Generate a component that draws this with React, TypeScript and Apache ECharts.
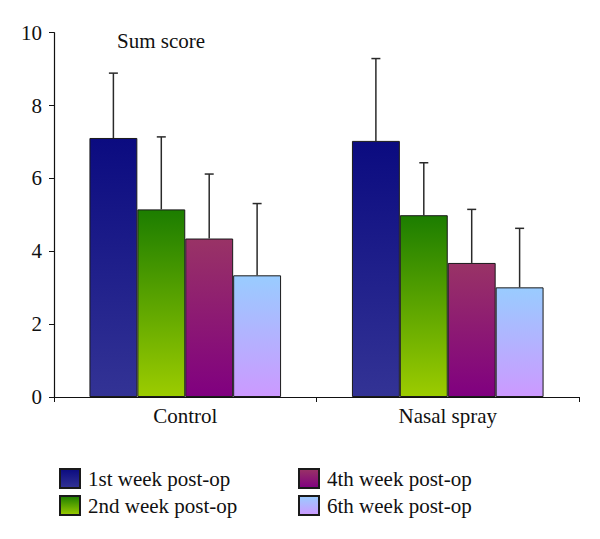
import React, { useEffect, useRef } from "react";
import * as echarts from "echarts";

const categories = ["Control", "Nasal spray"];
const weeks = ["1st week post-op", "2nd week post-op", "4th week post-op", "6th week post-op"];
// mean values per week: [Control, Nasal spray]
const week1 = [7.11, 7.03];
const week2 = [5.15, 4.99];
const week4 = [4.35, 3.68];
const week6 = [3.34, 3.01];
// upper error (SD) per week
const err1 = [1.78, 2.26];
const err2 = [1.99, 1.44];
const err4 = [1.77, 1.47];
const err6 = [1.97, 1.62];
const yTicks = [0, 2, 4, 6, 8, 10];

const FONT = "Liberation Serif";

const grad = (top: string, bottom: string) =>
  new echarts.graphic.LinearGradient(0, 0, 0, 1, [
    { offset: 0, color: top },
    { offset: 1, color: bottom },
  ]);

export default function App() {
  const ref = useRef<HTMLDivElement>(null);
  useEffect(() => {
    if (!ref.current) return;
    const chart = echarts.init(ref.current, undefined, { renderer: "svg" });
    const values = [week1, week2, week4, week6];
    const errs = [err1, err2, err4, err6];
    const colors = [
      grad("#0b0b80", "#333395"),
      grad("#1c7d00", "#9ccc00"),
      grad("#993366", "#800080"),
      grad("#99ccff", "#cc99ff"),
    ];
    const gapPct = 0.27;
    const errData: number[][] = [];
    values.forEach((v, w) =>
      v.forEach((val, c) => errData.push([c, w, val, errs[w][c]]))
    );
    const legendText = { fontFamily: FONT, fontSize: 21, color: "#111", padding: [0, 0, 0, 3] };
    chart.setOption({
      animation: false,
      title: {
        text: "Sum score",
        left: 112,
        top: 25,
        textStyle: { fontFamily: FONT, fontSize: 21, fontWeight: "normal", color: "#111" },
      },
      grid: { left: 54, right: 21, top: 32.7, bottom: 142 },
      legend: [
        {
          data: [weeks[0], weeks[1]],
          orient: "vertical",
          left: 54,
          top: 463,
          icon: "rect",
          itemWidth: 20,
          itemHeight: 19,
          itemGap: 6,
          textStyle: legendText,
        },
        {
          data: [weeks[2], weeks[3]],
          orient: "vertical",
          left: 293,
          top: 463,
          icon: "rect",
          itemWidth: 20,
          itemHeight: 19,
          itemGap: 6,
          textStyle: legendText,
        },
      ],
      xAxis: {
        type: "category",
        data: categories,
        axisLine: { lineStyle: { color: "#111", width: 1.2 } },
        axisTick: { show: true, length: 5, lineStyle: { color: "#111" } },
        axisLabel: { fontFamily: FONT, fontSize: 21, color: "#111", margin: 8 },
      },
      yAxis: {
        type: "value",
        min: yTicks[0],
        max: yTicks[yTicks.length - 1],
        interval: 2,
        splitLine: { show: false },
        axisLine: { show: true, lineStyle: { color: "#111", width: 1.2 } },
        axisTick: { show: true, length: 5, lineStyle: { color: "#111" } },
        axisLabel: { fontFamily: FONT, fontSize: 21, color: "#111", margin: 12 },
      },
      series: [
        ...values.map((v, i) => ({
          name: weeks[i],
          type: "bar",
          data: v,
          barGap: "0%",
          barCategoryGap: gapPct * 100 + "%",
          itemStyle: { color: colors[i], borderColor: "#1a1a1a", borderWidth: 1 },
          z: 2,
        })),
        {
          type: "custom",
          name: "err",
          data: errData,
          encode: { x: 0, y: 2 },
          z: 3,
          renderItem: (params: any, api: any) => {
            const c = api.value(0);
            const w = api.value(1);
            const val = api.value(2);
            const e = api.value(3);
            const catW = api.size([1, 0])[0];
            const groupW = catW * (1 - gapPct);
            const barW = groupW / 4;
            const base = api.coord([c, val]);
            const top = api.coord([c, val + e]);
            const x = base[0] - groupW / 2 + (w + 0.5) * barW;
            const style = { stroke: "#2a2a2a", lineWidth: 1.5 };
            return {
              type: "group",
              children: [
                { type: "line", shape: { x1: x, y1: base[1], x2: x, y2: top[1] }, style },
                { type: "line", shape: { x1: x - 4.5, y1: top[1], x2: x + 4.5, y2: top[1] }, style },
              ],
            };
          },
        },
      ],
    });
    return () => chart.dispose();
  }, []);
  return (
    <div
      ref={ref}
      style={{ position: "fixed", left: 0, top: 0, width: 600, height: 539, background: "#fff" }}
    />
  );
}
